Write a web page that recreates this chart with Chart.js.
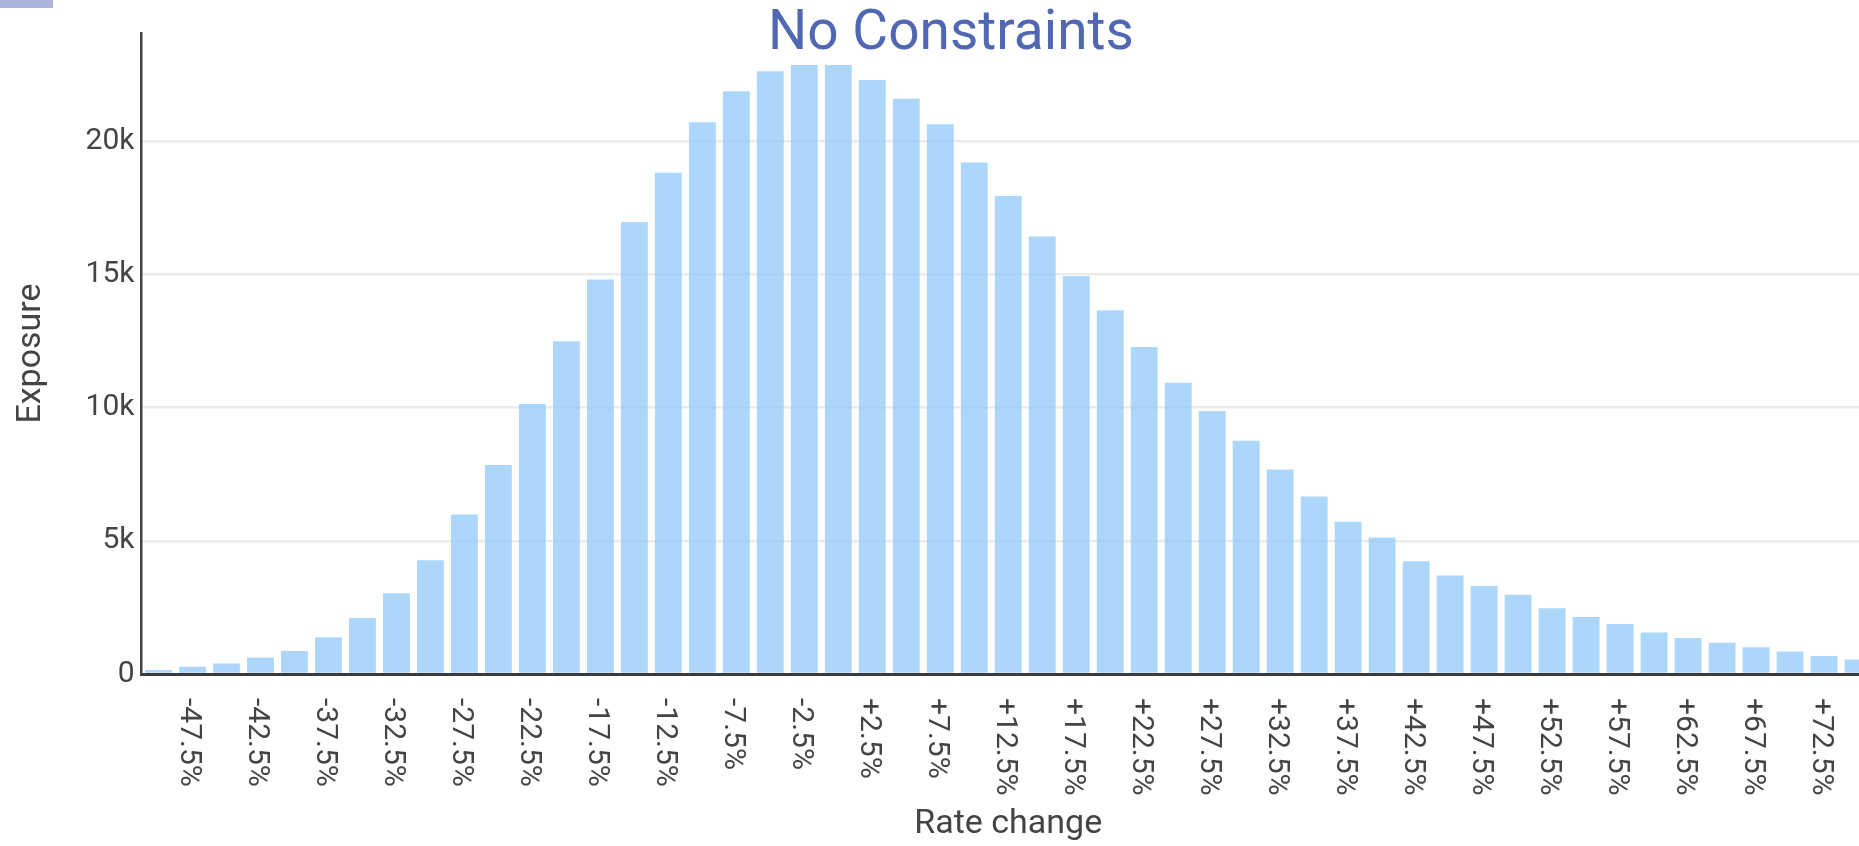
<!DOCTYPE html>
<html>
<head>
<meta charset="utf-8">
<script src="https://cdn.jsdelivr.net/npm/chart.js@4.4.1/dist/chart.umd.min.js"></script>
<style>
  html, body { margin: 0; padding: 0; background: #fff; overflow: hidden; }
  #wrap { position: relative; width: 1875px; height: 846px; }
  #tab { position: absolute; left: 0; top: 0; width: 53px; height: 8px; background: #aab4dc; }
</style>
</head>
<body>
<div id="wrap"><canvas id="chart"></canvas></div>
<div id="tab"></div>
<script>
// rate change buckets (2.5% wide), every second one gets a label
var categories = [
  '-50%', '-47.5%', '-45%', '-42.5%', '-40%', '-37.5%', '-35%', '-32.5%', '-30%', '-27.5%',
  '-25%', '-22.5%', '-20%', '-17.5%', '-15%', '-12.5%', '-10%', '-7.5%', '-5%', '-2.5%',
  '0%', '+2.5%', '+5%', '+7.5%', '+10%', '+12.5%', '+15%', '+17.5%', '+20%', '+22.5%',
  '+25%', '+27.5%', '+30%', '+32.5%', '+35%', '+37.5%', '+40%', '+42.5%', '+45%', '+47.5%',
  '+50%', '+52.5%', '+55%', '+57.5%', '+60%', '+62.5%', '+65%', '+67.5%', '+70%', '+72.5%',
  '+75%'
];

// exposure per bucket
var exposure = [
  150, 275, 390, 615, 865, 1380, 2105, 3030, 4275, 5985,
  7845, 10140, 12495, 14810, 16970, 18820, 20715, 21880, 22630, 22870,
  22870, 22305, 21600, 20640, 19210, 17950, 16430, 14935, 13660, 12280,
  10940, 9875, 8760, 7675, 6665, 5718, 5126, 4232, 3703, 3300,
  2973, 2468, 2141, 1877, 1562, 1348, 1171, 1008, 844, 680,
  541
];

var yTicks = [0, 5000, 10000, 15000, 20000];
var yTickLabels = ['0', '5k', '10k', '15k', '20k'];
var yMax = 24070;

var chartTitle = 'No Constraints';
var xTitle = 'Rate change';
var yTitle = 'Exposure';

// x labels read top to bottom, chart.js only rotates the other way
var rotatedXLabels = {
  id: 'rotatedXLabels',
  afterDraw: function (chart) {
    var ctx = chart.ctx;
    var xaxis = chart.scales.x;
    ctx.save();
    ctx.font = '30px Roboto';
    ctx.fillStyle = '#444';
    ctx.textAlign = 'left';
    ctx.textBaseline = 'middle';
    for (var i = 1; i < categories.length; i += 2) {
      ctx.save();
      ctx.translate(xaxis.getPixelForTick(i) - 4, xaxis.top + 24);
      ctx.rotate(Math.PI / 2);
      ctx.fillText(categories[i], 0, 0);
      ctx.restore();
    }
    ctx.restore();
  }
};

// title sits over the top of the plot, so draw it by hand
var overlayTitle = {
  id: 'overlayTitle',
  afterDraw: function (chart) {
    var ctx = chart.ctx;
    ctx.save();
    ctx.font = '55px Roboto';
    ctx.fillStyle = '#5068b2';
    ctx.textAlign = 'center';
    ctx.textBaseline = 'alphabetic';
    ctx.fillText(chartTitle, 951, 49);
    ctx.restore();
  }
};

new Chart(document.getElementById('chart'), {
  type: 'bar',
  data: {
    labels: categories,
    datasets: [{
      data: exposure,
      backgroundColor: 'rgba(144, 202, 249, 0.75)',
      borderWidth: 0,
      barPercentage: 0.79,
      categoryPercentage: 1
    }]
  },
  options: {
    responsive: true,
    maintainAspectRatio: false,
    animation: false,
    layout: { padding: { top: 33, left: 0, right: 0, bottom: 0 } },
    plugins: {
      legend: { display: false },
      tooltip: { enabled: false },
      title: { display: false }
    },
    scales: {
      x: {
        z: 1,
        grid: { display: false, drawTicks: false },
        border: { display: true, color: '#3b3b3b', width: 3 },
        ticks: { display: false },
        title: {
          display: true, text: xTitle, color: '#444',
          font: { family: 'Roboto', size: 34 },
          padding: { top: 129.6, bottom: 1.6 }
        }
      },
      y: {
        min: 0,
        max: yMax,
        grid: { color: '#ebebeb', lineWidth: 2.5, drawTicks: false },
        border: { display: true, color: '#444', width: 2.5 },
        afterBuildTicks: function (axis) {
          axis.ticks = yTicks.map(function (v) { return { value: v }; });
        },
        ticks: {
          padding: 7,
          color: '#444',
          font: { family: 'Roboto', size: 30 },
          callback: function (value) {
            return yTickLabels[yTicks.indexOf(value)];
          }
        },
        title: {
          display: true, text: yTitle, color: '#444',
          font: { family: 'Roboto', size: 34 },
          padding: { top: 10.6, bottom: 27.2 }
        }
      }
    }
  },
  plugins: [rotatedXLabels, overlayTitle]
});
</script>
</body>
</html>
